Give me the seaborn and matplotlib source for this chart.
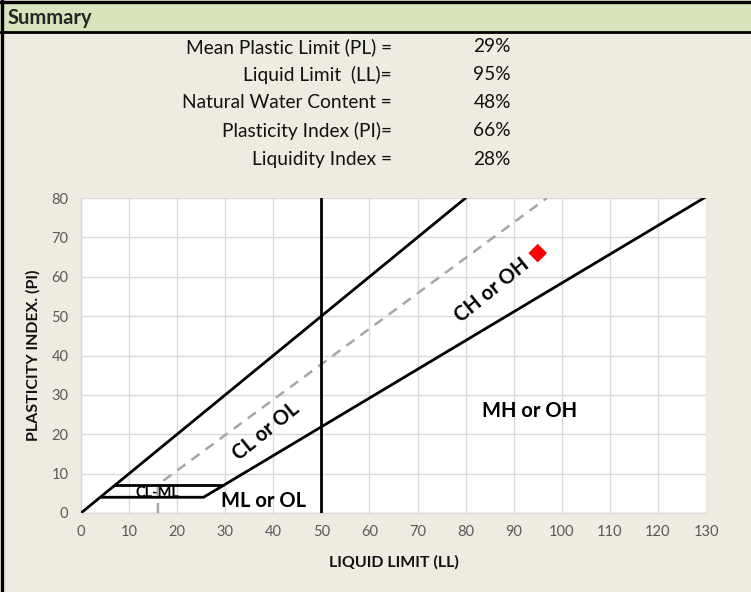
import matplotlib
matplotlib.use("Agg")
import matplotlib.pyplot as plt
from matplotlib.patches import Rectangle
from matplotlib.lines import Line2D
import pandas as pd
import seaborn as sns

# Summary values
summary_labels = ["Mean Plastic Limit (PL) =", "Liquid Limit  (LL)=",
                  "Natural Water Content =", "Plasticity Index (PI)=",
                  "Liquidity Index ="]
summary_values = ["29%", "95%", "48%", "66%", "28%"]

# Sample point
sample_ll = [95]
sample_pi = [66]

# Chart boundary lines (LL, PI)
upper_ll = [0, 80]
upper_pi = [0, 80]
a_line_ll = [4, 25.5, 130]
a_line_pi = [4, 4, 80.3]
clml_top_ll = [7, 29.6]
clml_top_pi = [7, 7]
ll50_ll = [50, 50]
ll50_pi = [0, 80]
u_line_ll = [16, 16, 96.9]
u_line_pi = [0, 7.2, 80]

# Zone labels
zone_text = ["CH or OH", "CL or OL", "MH or OH", "ML or OL", "CL-ML"]
zone_ll = [85.4, 38.5, 93.3, 38, 16]
zone_pi = [56.5, 20.8, 26, 3, 5.0]
zone_rot = [39, 39, 0, 0, 0]
zone_size = [14.5, 14.5, 14.5, 14.5, 10.5]

x_ticks = list(range(0, 131, 10))
y_ticks = list(range(0, 81, 10))

sns.set_theme(style="white")
plt.rcParams["font.family"] = ["Lato", "DejaVu Sans"]

BG = "#EEECE1"
W, H = 751, 592
fig = plt.figure(figsize=(W / 100, H / 100), dpi=100, facecolor=BG)

# Header band with frame lines
fig.patches.append(Rectangle((0, 1 - 32 / H), 1, 29 / H, transform=fig.transFigure,
                             facecolor="#D8E4BC", edgecolor="none", zorder=0))
fig.add_artist(Line2D([0, 1], [1 - 1.5 / H] * 2, transform=fig.transFigure, color="black", lw=2.4))
fig.add_artist(Line2D([0, 1], [1 - 32 / H] * 2, transform=fig.transFigure, color="black", lw=2.0))
fig.add_artist(Line2D([1.5 / W] * 2, [0, 1], transform=fig.transFigure, color="black", lw=2.4))
fig.text(8 / W, 1 - 18 / H, "Summary", fontsize=14.5, fontweight="bold", va="center", ha="left")

rows_y = [47, 75, 103, 131, 159]
for lab, val, yy in zip(summary_labels, summary_values, rows_y):
    fig.text(392 / W, 1 - yy / H, lab, fontsize=13.8, ha="right", va="center", color="#111111")
    fig.text(511 / W, 1 - yy / H, val, fontsize=13.8, ha="right", va="center", color="#111111")

ax = fig.add_axes([81 / W, (H - 513) / H, 625 / W, 315 / H])
ax.set_facecolor("white")

def seg(xs, ys, **kw):
    df = pd.DataFrame({"LL": xs, "PI": ys})
    sns.lineplot(data=df, x="LL", y="PI", sort=False, estimator=None, ax=ax, **kw)

seg(u_line_ll, u_line_pi, color="#A6A6A6", lw=1.8, linestyle=(0, (4, 3)), zorder=3)
for xs, ys in [(upper_ll, upper_pi), (a_line_ll, a_line_pi), (clml_top_ll, clml_top_pi),
               (ll50_ll, ll50_pi)]:
    seg(xs, ys, color="black", lw=2.0, zorder=4)

pt = pd.DataFrame({"LL": sample_ll, "PI": sample_pi})
sns.scatterplot(data=pt, x="LL", y="PI", marker="D", s=90, color="#FF0000",
                edgecolor="none", ax=ax, zorder=5)

for t, x, y, r, fs in zip(zone_text, zone_ll, zone_pi, zone_rot, zone_size):
    ax.text(x, y, t, rotation=r, fontsize=fs, fontweight="bold", ha="center", va="center",
            rotation_mode="anchor", color="black", zorder=2)

ax.set_xlim(0, 130)
ax.set_ylim(0, 80)
ax.set_xticks(x_ticks)
ax.set_yticks(y_ticks)
ax.grid(True, color="#D9D9D9", lw=1.0)
ax.set_axisbelow(True)
for s in ["top", "right"]:
    ax.spines[s].set_visible(False)
for s in ["left", "bottom"]:
    ax.spines[s].set_color("#D9D9D9")
    ax.spines[s].set_linewidth(1.0)
ax.tick_params(axis="both", length=0, labelsize=10.5, labelcolor="#595959", pad=9)
ax.set_xlabel("LIQUID LIMIT (LL)", fontsize=11.5, fontweight="bold", color="#111111", labelpad=11)
ax.set_ylabel("PLASTICITY INDEX. (PI)", fontsize=11.5, fontweight="bold", color="#111111", labelpad=8)

fig.savefig("out.png", dpi=100, facecolor=BG)
